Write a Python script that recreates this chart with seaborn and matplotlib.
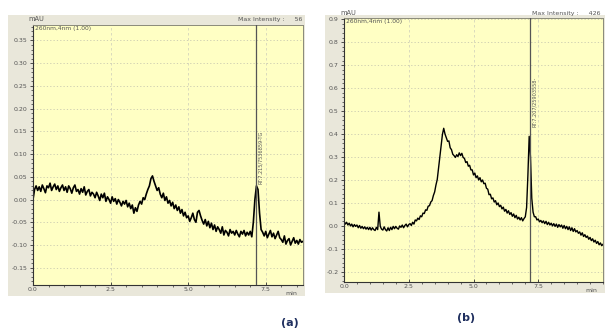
import matplotlib
matplotlib.use("Agg")
import matplotlib.pyplot as plt
from matplotlib.patches import Rectangle
from matplotlib.ticker import MultipleLocator, FormatStrFormatter
import numpy as np
import pandas as pd
import seaborn as sns

# ---------------- data ----------------
step_a = 0.05
signal_a = [
    0.000, 0.022, 0.030, 0.020, 0.028, 0.018, 0.032, 0.024, 0.015, 0.030, 0.026, 0.036, 0.020, 0.028, 0.034, 0.022, 0.030, 0.018, 0.026, 0.032,
    0.020, 0.028, 0.016, 0.030, 0.024, 0.014, 0.026, 0.032, 0.018, 0.022, 0.012, 0.024, 0.016, 0.028, 0.010, 0.018, 0.022, 0.008, 0.016, 0.012,
    0.004, 0.016, 0.008, -0.002, 0.012, 0.004, 0.014, -0.004, 0.006, 0.000, -0.008, 0.006, -0.004, 0.002, -0.010, 0.000, -0.006, -0.014, -0.004, -0.010,
    -0.002, -0.016, -0.008, -0.020, -0.012, -0.030, -0.018, -0.026, -0.012, -0.004, -0.010, 0.004, 0.000, 0.012, 0.022, 0.030, 0.046, 0.052, 0.040, 0.030,
    0.020, 0.026, 0.012, 0.004, 0.014, -0.002, 0.006, -0.008, -0.002, -0.014, -0.006, -0.020, -0.012, -0.024, -0.016, -0.030, -0.022, -0.036, -0.028, -0.040,
    -0.036, -0.048, -0.040, -0.030, -0.044, -0.050, -0.028, -0.024, -0.036, -0.046, -0.054, -0.044, -0.058, -0.048, -0.062, -0.052, -0.066, -0.056, -0.070, -0.060,
    -0.066, -0.074, -0.060, -0.078, -0.068, -0.072, -0.080, -0.066, -0.074, -0.070, -0.078, -0.068, -0.076, -0.082, -0.070, -0.076, -0.068, -0.080, -0.072, -0.078,
    -0.070, -0.082, -0.050, 0.000, 0.030, 0.022, -0.030, -0.066, -0.072, -0.080, -0.070, -0.084, -0.076, -0.068, -0.082, -0.074, -0.086, -0.078, -0.070, -0.084,
    -0.088, -0.094, -0.080, -0.098, -0.090, -0.086, -0.100, -0.092, -0.084, -0.096, -0.090, -0.098, -0.088, -0.094, -0.092,
]

step_b = 0.05
signal_b = [
    0.020, 0.008, 0.016, 0.004, 0.012, 0.000, 0.008, -0.004, 0.006, -0.002, 0.004, -0.008, 0.002, -0.010, -0.002, -0.012, -0.004, -0.014, -0.006, -0.016,
    -0.006, -0.018, -0.008, -0.016, -0.020, -0.006, -0.016, 0.060, -0.002, -0.014, -0.018, -0.004, -0.016, -0.022, -0.008, -0.020, -0.006, -0.016, -0.002, -0.012,
    -0.002, -0.010, -0.014, 0.000, -0.006, 0.004, -0.008, 0.002, 0.008, -0.004, 0.006, 0.010, 0.002, 0.016, 0.008, 0.026, 0.022, 0.034, 0.028, 0.044,
    0.040, 0.056, 0.054, 0.070, 0.068, 0.086, 0.088, 0.104, 0.110, 0.132, 0.148, 0.178, 0.202, 0.252, 0.298, 0.356, 0.398, 0.425, 0.400, 0.384,
    0.368, 0.370, 0.340, 0.332, 0.312, 0.306, 0.298, 0.310, 0.302, 0.318, 0.306, 0.316, 0.298, 0.294, 0.276, 0.280, 0.260, 0.264, 0.244, 0.244,
    0.222, 0.230, 0.210, 0.218, 0.200, 0.210, 0.192, 0.200, 0.184, 0.186, 0.164, 0.160, 0.136, 0.138, 0.118, 0.122, 0.104, 0.110, 0.092, 0.100,
    0.084, 0.090, 0.074, 0.082, 0.064, 0.072, 0.056, 0.066, 0.050, 0.058, 0.042, 0.052, 0.036, 0.046, 0.030, 0.038, 0.026, 0.036, 0.022, 0.032,
    0.040, 0.080, 0.220, 0.390, 0.300, 0.120, 0.060, 0.040, 0.040, 0.026, 0.030, 0.018, 0.024, 0.014, 0.022, 0.010, 0.020, 0.006, 0.016, 0.004,
    0.012, 0.000, 0.010, -0.002, 0.008, -0.006, 0.006, -0.004, 0.004, -0.010, 0.002, -0.012, -0.002, -0.016, -0.004, -0.020, -0.008, -0.024, -0.012, -0.026,
    -0.020, -0.032, -0.026, -0.040, -0.030, -0.046, -0.038, -0.050, -0.044, -0.058, -0.050, -0.064, -0.056, -0.070, -0.062, -0.076, -0.068, -0.082, -0.074, -0.086, -0.080,
]

marker_rt_a = 7.19
marker_rt_b = 7.19
marker_label_a = "RT:7.215/7536859-TG"
marker_label_b = "RT:7.207/25903558-"
channel_label = "260nm,4nm (1.00)"
max_int_a = "Max Intensity :     56"
max_int_b = "Max Intensity :     426"
xticks = [0.0, 2.5, 5.0, 7.5]
yticks_a = [-0.15, -0.10, -0.05, 0.00, 0.05, 0.10, 0.15, 0.20, 0.25, 0.30, 0.35]
yticks_b = [-0.2, -0.1, 0.0, 0.1, 0.2, 0.3, 0.4, 0.5, 0.6, 0.7, 0.8, 0.9]

df_a = pd.DataFrame({"time": np.round(np.arange(len(signal_a)) * step_a, 3), "mAU": signal_a})
df_b = pd.DataFrame({"time": np.round(np.arange(len(signal_b)) * step_b, 3), "mAU": signal_b})

# ---------------- figure ----------------
W, H = 605, 332
fig = plt.figure(figsize=(W / 100, H / 100), dpi=100, facecolor="white")

FRAME = "#e9e7da"
PLOTBG = "#ffffc4"
TXT = "#555555"

def px_rect(x0, y0, x1, y1):
    return [x0 / W, 1 - y1 / H, (x1 - x0) / W, (y1 - y0) / H]

# outer beige frames (drawn behind the axes)
for (x0, y0, x1, y1) in [(8, 15, 305, 296), (325, 15, 605, 293)]:
    fig.patches.append(Rectangle((x0 / W, 1 - y1 / H), (x1 - x0) / W, (y1 - y0) / H,
                                 transform=fig.transFigure, facecolor=FRAME,
                                 edgecolor="none", zorder=-5))

ax_a = fig.add_axes(px_rect(33, 25, 303, 285))
ax_b = fig.add_axes(px_rect(344, 18, 603, 282))

def style(ax, df, xlim, ylim, yticks, yminor, fmt, rt, rtlabel, rt_text_y, lw):
    ax.set_facecolor(PLOTBG)
    sns.lineplot(data=df, x="time", y="mAU", ax=ax, color="black", linewidth=lw,
                 estimator=None, sort=True)
    ax.set_xlim(*xlim)
    ax.set_ylim(*ylim)
    ax.set_xlabel("")
    ax.set_ylabel("")
    ax.set_xticks(xticks)
    ax.xaxis.set_minor_locator(MultipleLocator(0.5))
    ax.set_yticks(yticks)
    ax.yaxis.set_minor_locator(MultipleLocator(yminor))
    ax.yaxis.set_major_formatter(FormatStrFormatter(fmt))
    ax.xaxis.set_major_formatter(FormatStrFormatter("%.1f"))
    ax.tick_params(axis="both", which="major", labelsize=4.5, colors="#333333",
                   labelcolor=TXT, length=2.5, width=0.6, pad=1.5)
    ax.tick_params(axis="both", which="minor", length=1.3, width=0.5, colors="#333333")
    ax.tick_params(axis="x", direction="in")
    for s in ["top", "right"]:
        ax.spines[s].set_color("#8a8a7a")
        ax.spines[s].set_linewidth(0.7)
    for s in ["left", "bottom"]:
        ax.spines[s].set_color("#333333")
        ax.spines[s].set_linewidth(0.8)
    ax.grid(axis="y", which="major", linestyle=(0, (1.5, 2.5)), color="#c9c9b0", linewidth=0.6)
    ax.grid(axis="x", which="major", linestyle=(0, (3, 3)), color="#d4d4bc", linewidth=0.6)
    ax.set_axisbelow(True)
    ax.axvline(rt, color="#555555", linewidth=0.9, zorder=3)
    ax.text(rt + (xlim[1] - xlim[0]) * 0.008, rt_text_y, rtlabel, rotation=90,
            fontsize=3.6, color="#555555", ha="left", va="bottom")
    ax.text(0.008, 0.995, channel_label, transform=ax.transAxes, fontsize=4.3,
            color="#555555", ha="left", va="top")
    ax.text(0.955, -0.022, "min", transform=ax.transAxes, fontsize=4.5,
            color=TXT, ha="center", va="top")

style(ax_a, df_a, (0, 8.7), (-0.188, 0.384), yticks_a, 0.01, "%.2f",
      marker_rt_a, marker_label_a, 0.035, 1.2)
style(ax_b, df_b, (0, 10.0), (-0.244, 0.905), yticks_b, 0.02, "%.1f",
      marker_rt_b, marker_label_b, 0.43, 1.0)

# header texts
fig.text(28 / W, 1 - 19 / H, "mAU", fontsize=4.8, color=TXT, ha="left", va="center")
fig.text(302 / W, 1 - 19 / H, max_int_a, fontsize=4.5, color=TXT, ha="right", va="center")
fig.text(340 / W, 1 - 13 / H, "mAU", fontsize=4.8, color=TXT, ha="left", va="center")
fig.text(601 / W, 1 - 13 / H, max_int_b, fontsize=4.5, color=TXT, ha="right", va="center")

# panel labels
fig.text(290 / W, 1 - 323 / H, "(a)", fontsize=8, fontweight="bold", color="#1f2f5f",
         ha="center", va="center")
fig.text(466 / W, 1 - 318 / H, "(b)", fontsize=8, fontweight="bold", color="#1f2f5f",
         ha="center", va="center")

fig.savefig("out.png", dpi=100, facecolor="white")
